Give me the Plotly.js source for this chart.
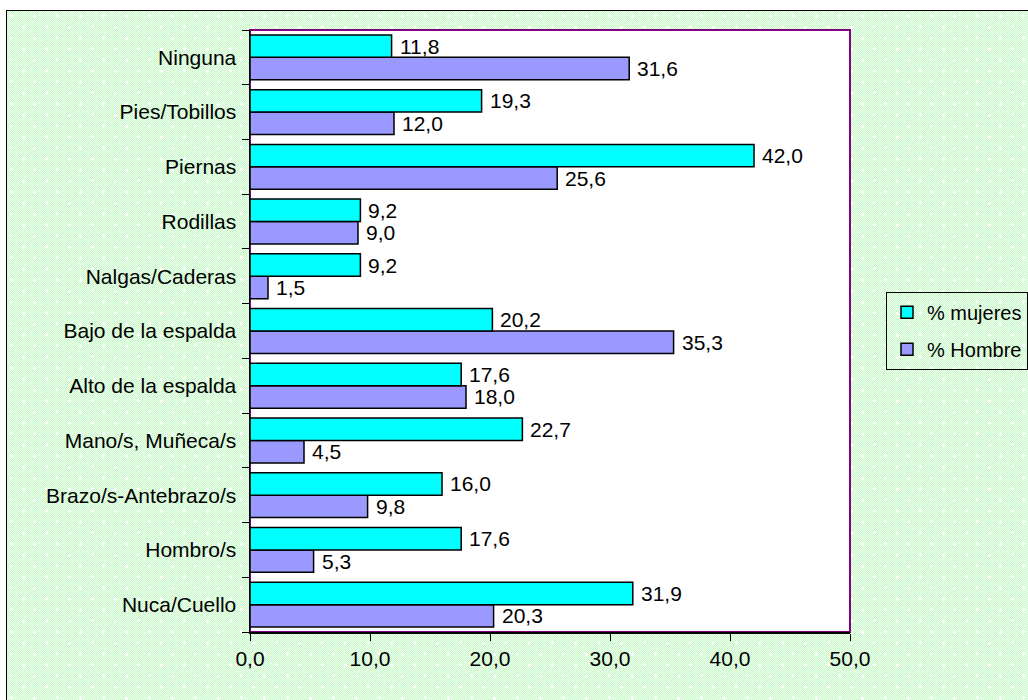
<!DOCTYPE html>
<html>
<head>
<meta charset="utf-8">
<script src="https://cdn.plot.ly/plotly-3.0.1.min.js"></script>
<style>
  html, body { margin:0; padding:0; background:#ffffff; overflow:hidden; }
  #frame {
    position:absolute; left:6px; top:10px; width:1040px; height:710px;
    border:1px solid #000;
    background-color:#e0fce0;
    background-image:
      radial-gradient(circle, #ffffff 1.5px, transparent 1.8px),
      radial-gradient(circle, #ffffff 1.5px, transparent 1.8px),
      repeating-conic-gradient(#c4f8c4 0% 25%, #f2fff2 0% 50%);
    background-size: 23px 22px, 23px 22px, 2px 2px;
    background-position: 5px 5px, 16px 16px, 0 0;
  }
  #chart { position:absolute; left:0; top:0; width:1028px; height:700px; }
</style>
</head>
<body>
<div id="frame"></div>
<div id="chart"></div>
<script>
const categories = ["Nuca/Cuello","Hombro/s","Brazo/s-Antebrazo/s","Mano/s, Muñeca/s","Alto de la espalda","Bajo de la espalda","Nalgas/Caderas","Rodillas","Piernas","Pies/Tobillos","Ninguna"];
const mujeres = [31.9, 17.6, 16.0, 22.7, 17.6, 20.2, 9.2, 9.2, 42.0, 19.3, 11.8];
const hombre  = [20.3, 5.3, 9.8, 4.5, 18.0, 35.3, 1.5, 9.0, 25.6, 12.0, 31.6];
const seriesNames = ["% mujeres", "% Hombre"];
const xTicks = [0, 10, 20, 30, 40, 50];

const fmt = v => v.toFixed(1).replace('.', ',');
const font = {family:"Liberation Sans, Arial, sans-serif", size:21, color:"#000"};
const legendFont = {family:"Liberation Sans, Arial, sans-serif", size:20, color:"#000"};

const traces = [
  {type:'bar', orientation:'h', name:seriesNames[1], y:categories, x:hombre,
   marker:{color:'#9999ff', line:{color:'#000', width:1.5}}, legendgroup:'h', legendrank:2, hoverinfo:'none'},
  {type:'bar', orientation:'h', name:seriesNames[0], y:categories, x:mujeres,
   marker:{color:'#00ffff', line:{color:'#000', width:1.5}}, legendgroup:'m', legendrank:1, hoverinfo:'none'}
];

const bargap = 0.18;
const off = (1 - bargap) / 4;
const annotations = [];
categories.forEach((c, i) => {
  annotations.push({x:mujeres[i], y:i + off, xref:'x', yref:'y', text:fmt(mujeres[i]),
    showarrow:false, xanchor:'left', yanchor:'middle', xshift:7, borderpad:0, font:font});
  annotations.push({x:hombre[i], y:i - off, xref:'x', yref:'y', text:fmt(hombre[i]),
    showarrow:false, xanchor:'left', yanchor:'middle', xshift:7, borderpad:0, font:font});
});

const layout = {
  width:1028, height:700,
  margin:{l:250, r:178, t:30, b:68, autoexpand:false},
  paper_bgcolor:'rgba(0,0,0,0)',
  plot_bgcolor:'#ffffff',
  separators:',.',
  barmode:'group', bargap:bargap, bargroupgap:0,
  font:font,
  showlegend:true,
  legend:{x:1.06, y:0.565, xanchor:'left', yanchor:'top', bgcolor:'rgba(0,0,0,0)',
    bordercolor:'#000', borderwidth:1, font:legendFont, traceorder:'grouped', tracegroupgap:8,
    itemwidth:30},
  xaxis:{range:[0,50], tickvals:xTicks, tickformat:'.1f', showgrid:false, zeroline:false,
    showline:true, linecolor:'#000', linewidth:1.5, ticks:'outside', ticklen:7, tickcolor:'#000',
    tickfont:font, fixedrange:true},
  yaxis:{type:'category', range:[-0.5, categories.length - 0.5], showgrid:false, zeroline:false,
    showline:true, linecolor:'#000', linewidth:1.5, ticks:'outside', ticklen:7, tickcolor:'#000',
    tickson:'boundaries', tickfont:font, ticklabelstandoff:8, fixedrange:true},
  shapes:[{type:'rect', xref:'paper', yref:'paper', x0:0, x1:1, y0:0, y1:1,
    line:{color:'#800080', width:2}, layer:'below'}],
  annotations:annotations
};

Plotly.newPlot('chart', traces, layout, {staticPlot:true, displayModeBar:false});
</script>
</body>
</html>
